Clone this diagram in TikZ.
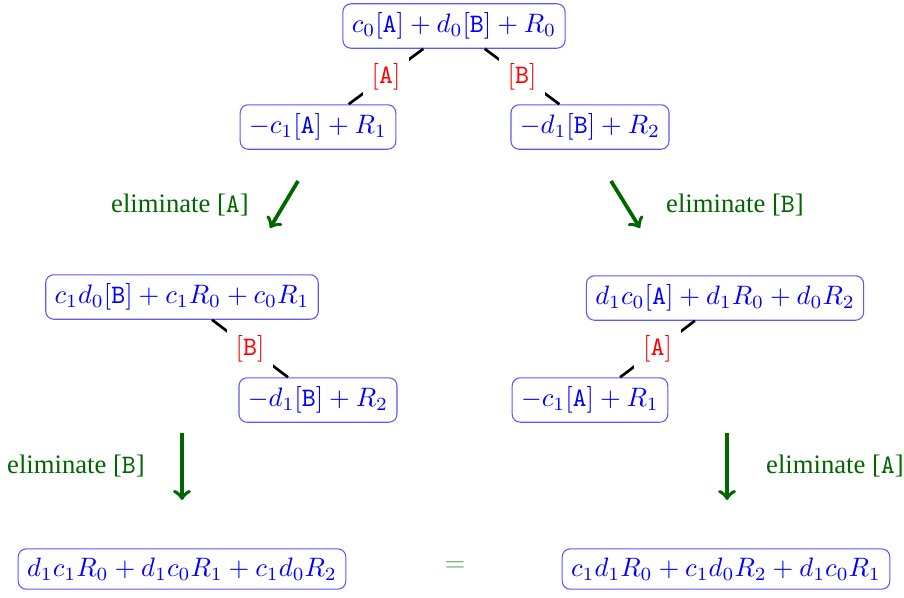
\documentclass[tikz,border=0pt]{standalone}
\usepackage{fontspec}
\setmainfont{Liberation Serif}
\definecolor{eqgreen}{RGB}{90,165,90}
\begin{document}
\begin{tikzpicture}[x=.375pt,y=-.375pt,
  expr/.style={draw=blue!65,text=blue,rounded corners=3pt,thin},
  tag/.style={fill=white,text=red},
  link/.style={line width=1pt},
  elim/.style={->,draw=green!40!black,line width=1.4pt},
  note/.style={text=green!40!black}]
\path[use as bounding box] (0,0) rectangle (904,597);
% first split
\node[expr] (top) at (454,26) {$c_0[\texttt{A}]+d_0[\texttt{B}]+R_0$};
\node[expr] (la) at (318,127) {$-c_1[\texttt{A}]+R_1$};
\node[expr] (rb) at (590,127) {$-d_1[\texttt{B}]+R_2$};
\draw[link] (top) -- (la) node[tag,midway] {$[\texttt{A}]$};
\draw[link] (top) -- (rb) node[tag,midway] {$[\texttt{B}]$};
% elimination steps
\coordinate (la1) at (298,181);
\coordinate (la2) at (270,228);
\coordinate (rb1) at (611,181);
\coordinate (rb2) at (640,228);
\draw[elim] (la1) -- (la2);
\draw[elim] (rb1) -- (rb2);
\node[note] (elA) at (180,205) {eliminate [\texttt{A}]};
\node[note] (elB) at (735,205) {eliminate [\texttt{B}]};
% second split
\node[expr] (lb) at (182,297) {$c_1d_0[\texttt{B}]+c_1R_0+c_0R_1$};
\node[expr] (lb2) at (318,400) {$-d_1[\texttt{B}]+R_2$};
\node[expr] (ra) at (725,298) {$d_1c_0[\texttt{A}]+d_1R_0+d_0R_2$};
\node[expr] (ra2) at (590,400) {$-c_1[\texttt{A}]+R_1$};
\draw[link] (lb) -- (lb2) node[tag,midway] {$[\texttt{B}]$};
\draw[link] (ra) -- (ra2) node[tag,midway] {$[\texttt{A}]$};
% final step
\coordinate (lb1) at (182,433);
\coordinate (lb3) at (182,500);
\coordinate (ra1) at (727,433);
\coordinate (ra3) at (727,500);
\draw[elim] (lb1) -- (lb3);
\draw[elim] (ra1) -- (ra3);
\node[note] (elB2) at (76,466) {eliminate [\texttt{B}]};
\node[note] (elA2) at (835,466) {eliminate [\texttt{A}]};
\node[expr] (endl) at (182,569) {$d_1c_1R_0+d_1c_0R_1+c_1d_0R_2$};
\node[expr] (endr) at (726,569) {$c_1d_1R_0+c_1d_0R_2+d_1c_0R_1$};
\node[text=eqgreen] (eq) at (455,567) {$=$};
\end{tikzpicture}
\end{document}
